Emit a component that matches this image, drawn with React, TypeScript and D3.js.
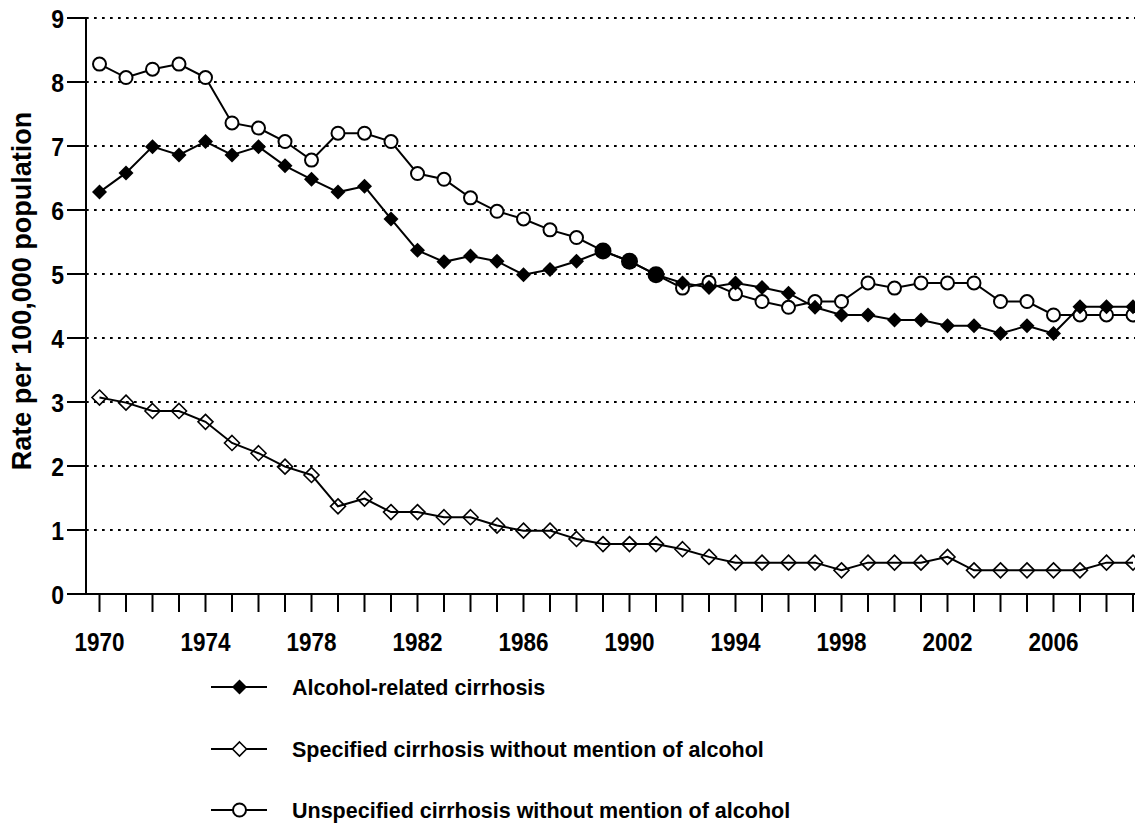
import React from "react";
import * as d3 from "d3";

const years: number[] = d3.range(1970, 2010);

const alcoholRelated: number[] = [
  6.28, 6.58, 6.99, 6.86, 7.07, 6.86, 6.99, 6.69, 6.48, 6.28,
  6.37, 5.86, 5.37, 5.19, 5.28, 5.2, 4.99, 5.07, 5.2, 5.36,
  5.2, 4.99, 4.86, 4.79, 4.86, 4.79, 4.7, 4.48, 4.36, 4.36,
  4.28, 4.28, 4.19, 4.19, 4.07, 4.19, 4.07, 4.49, 4.49, 4.49,
];

const specifiedNoAlcohol: number[] = [
  3.07, 2.99, 2.86, 2.86, 2.69, 2.36, 2.2, 1.99, 1.86, 1.37,
  1.49, 1.28, 1.28, 1.2, 1.2, 1.07, 0.99, 0.99, 0.86, 0.78,
  0.78, 0.78, 0.7, 0.58, 0.49, 0.49, 0.49, 0.49, 0.37, 0.49,
  0.49, 0.49, 0.58, 0.37, 0.37, 0.37, 0.37, 0.37, 0.49, 0.49,
];

const unspecifiedNoAlcohol: number[] = [
  8.28, 8.07, 8.2, 8.28, 8.07, 7.36, 7.28, 7.07, 6.78, 7.2,
  7.2, 7.07, 6.57, 6.48, 6.19, 5.98, 5.86, 5.69, 5.57, 5.36,
  5.2, 4.99, 4.78, 4.87, 4.69, 4.57, 4.48, 4.57, 4.57, 4.86,
  4.78, 4.86, 4.86, 4.86, 4.57, 4.57, 4.36, 4.36, 4.36, 4.36,
];

const yTicks: number[] = d3.range(0, 10);
const xLabelYears: number[] = d3.range(1970, 2007, 4);
const legendLabels: string[] = [
  "Alcohol-related cirrhosis",
  "Specified cirrhosis without mention of alcohol",
  "Unspecified cirrhosis without mention of alcohol",
];

const W = 1135;
const H = 823;
const axisX = 86;
const axisY = 594;
const FONT = "Liberation Sans, Arial, sans-serif";

const x = d3.scaleLinear().domain([1970, 2009]).range([99.5, 1133]);
const y = d3.scaleLinear().domain([0, 9]).range([axisY, 18]);

const diamond = (cx: number, cy: number, r: number) =>
  `M${cx},${cy - r}L${cx + r},${cy}L${cx},${cy + r}L${cx - r},${cy}Z`;

function seriesPath(vals: number[]) {
  const line = d3
    .line<number>()
    .x((_, i) => x(years[i]))
    .y((v) => y(v));
  return line(vals) || "";
}

export default function App() {
  const coincident = years
    .map((yr, i) => ({ yr, i }))
    .filter(({ i }) => Math.abs(alcoholRelated[i] - unspecifiedNoAlcohol[i]) < 0.02);

  const legendY = [687, 749, 810];

  return (
    <svg
      width={W}
      height={H}
      style={{ position: "absolute", left: 0, top: 0, background: "#fff" }}
      fontFamily={FONT}
    >
      <rect x={0} y={0} width={W} height={H} fill="#fff" />
      {/* gridlines */}
      {yTicks
        .filter((t) => t > 0)
        .map((t) => (
          <line
            key={"g" + t}
            x1={axisX}
            x2={W}
            y1={y(t)}
            y2={y(t)}
            stroke="#000"
            strokeWidth={2}
            strokeDasharray="2.7 5.3"
          />
        ))}
      {/* axes */}
      <line x1={axisX} x2={axisX} y1={y(9)} y2={axisY} stroke="#000" strokeWidth={2} />
      <line x1={axisX - 1} x2={W} y1={axisY} y2={axisY} stroke="#000" strokeWidth={2} />
      {yTicks.map((t) => (
        <g key={"yt" + t}>
          <line x1={67} x2={axisX} y1={y(t)} y2={y(t)} stroke="#000" strokeWidth={2} />
          <text
            transform={`translate(64,${y(t)}) scale(1,1.15)`}
            dy="0.36em"
            textAnchor="end"
            fontSize={23}
            fontWeight="bold"
          >
            {t}
          </text>
        </g>
      ))}
      {years.map((yr) => (
        <line key={"xt" + yr} x1={x(yr)} x2={x(yr)} y1={axisY} y2={612} stroke="#000" strokeWidth={2} />
      ))}
      {xLabelYears.map((yr) => (
        <text
          key={"xl" + yr}
          transform={`translate(${x(yr)},651) scale(1,1.15)`}
          textAnchor="middle"
          fontSize={22.5}
          fontWeight="bold"
        >
          {yr}
        </text>
      ))}
      <text
        transform={`translate(31,291) rotate(-90)`}
        textAnchor="middle"
        fontSize={27}
        fontWeight="bold"
      >
        Rate per 100,000 population
      </text>

      {/* unspecified */}
      <path d={seriesPath(unspecifiedNoAlcohol)} fill="none" stroke="#000" strokeWidth={2} />
      {unspecifiedNoAlcohol.map((v, i) => (
        <circle key={"u" + i} cx={x(years[i])} cy={y(v)} r={6.5} fill="#fff" stroke="#000" strokeWidth={2} />
      ))}
      {/* alcohol */}
      <path d={seriesPath(alcoholRelated)} fill="none" stroke="#000" strokeWidth={2} />
      {alcoholRelated.map((v, i) => (
        <path key={"a" + i} d={diamond(x(years[i]), y(v), 7.5)} fill="#000" />
      ))}
      {coincident.map(({ yr, i }) => (
        <circle key={"c" + yr} cx={x(yr)} cy={y(unspecifiedNoAlcohol[i])} r={8.5} fill="#000" />
      ))}
      {/* specified */}
      <path d={seriesPath(specifiedNoAlcohol)} fill="none" stroke="#000" strokeWidth={2} />
      {specifiedNoAlcohol.map((v, i) => (
        <path
          key={"s" + i}
          d={diamond(x(years[i]), y(v), 7.5)}
          fill="#fff"
          fillOpacity={0}
          stroke="#000"
          strokeWidth={1.6}
        />
      ))}

      {/* legend */}
      {legendLabels.map((lab, k) => (
        <g key={"lg" + k}>
          <line x1={211} x2={267} y1={legendY[k]} y2={legendY[k]} stroke="#000" strokeWidth={2} />
          {k === 0 && <path d={diamond(239.5, legendY[k], 7.5)} fill="#000" />}
          {k === 1 && (
            <path d={diamond(239.5, legendY[k], 7)} fill="#fff" stroke="#000" strokeWidth={1.6} />
          )}
          {k === 2 && (
            <circle cx={239.5} cy={legendY[k]} r={6.5} fill="#fff" stroke="#000" strokeWidth={2} />
          )}
          <text x={292} y={legendY[k]} dy="0.36em" fontSize={21.5} fontWeight="bold">
            {lab}
          </text>
        </g>
      ))}
    </svg>
  );
}
